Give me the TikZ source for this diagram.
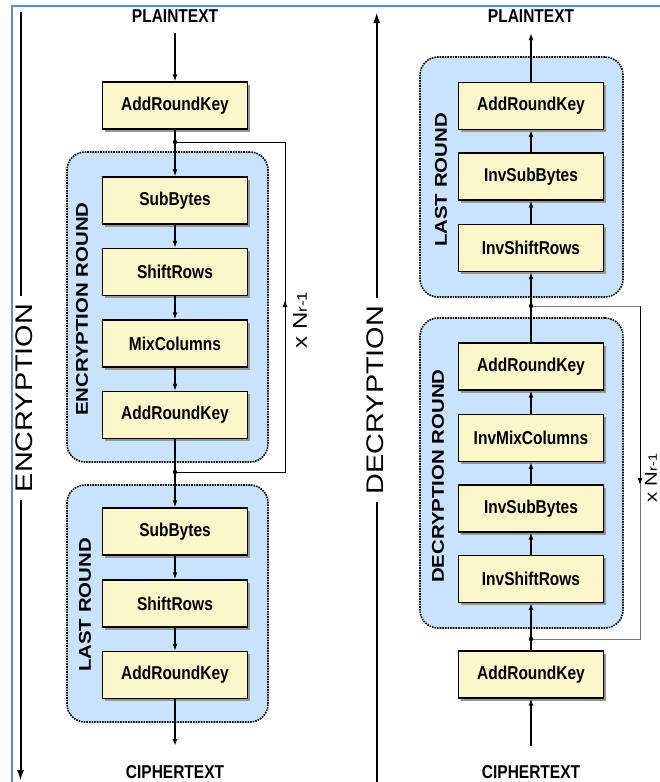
\documentclass[tikz,border=0pt]{standalone}
\usepackage{fontspec}
\setmainfont{Liberation Sans}
\usepackage{graphicx}
\usetikzlibrary{arrows.meta,shadows}
\definecolor{boxfill}{RGB}{252,246,203}
\definecolor{grpfill}{RGB}{200,227,251}
\definecolor{framecol}{RGB}{91,141,208}
\definecolor{shadowgray}{RGB}{150,150,150}
\definecolor{loopgray}{RGB}{120,120,120}
\newcommand{\vs}[1]{\scalebox{1}[1.2]{#1}}
\newcommand{\hs}[1]{\scalebox{1.2}[1]{#1}}
\begin{document}
\begin{tikzpicture}[x=1pt,y=-1pt,
  stage/.style={draw=black,line width=1.3pt,fill=boxfill,minimum width=145pt,minimum height=47pt,inner sep=0pt,
    font=\bfseries\fontsize{15.5}{16}\selectfont,
    drop shadow={shadow xshift=2.5pt,shadow yshift=-2.5pt,fill=shadowgray,opacity=1}},
  grp/.style={draw=black,fill=grpfill,line width=1.6pt,dash pattern=on 1.6pt off 1pt,rounded corners=18pt,inner sep=0pt},
  grplabel/.style={rotate=90,font=\bfseries\fontsize{17}{17}\selectfont,inner sep=0pt},
  iolabel/.style={font=\bfseries\fontsize{15.5}{16}\selectfont,inner sep=0pt},
  biglabel/.style={rotate=90,font=\fontsize{24}{24}\selectfont,inner xsep=8pt,inner ysep=0pt},
  replabel/.style={rotate=90,font=\fontsize{20}{20}\selectfont,inner sep=0pt},
  flow/.style={line width=1.4pt,-{Latex[length=7pt,width=5pt]}},
  loopline/.style={line width=1pt},
  looptip/.style={line width=1pt,-{Latex[length=7pt,width=5pt]}},
  bigline/.style={line width=2pt},
  bigarrow/.style={line width=2pt,-{Latex[length=11pt,width=7pt]}},
  frameline/.style={draw=framecol,line width=1.5pt}
]
\useasboundingbox (0,0) rectangle (660,782);
\fill[white] (0,0) rectangle (660,782);

% frame
\coordinate (fBL) at (12,790);
\coordinate (fTL) at (12,6);
\coordinate (fTR) at (670,6);
\draw[frameline] (fBL) -- (fTL) -- (fTR);

% ---------------- ENCRYPTION ----------------
\node[grp,minimum width=201pt,minimum height=310pt] (egR) at (167.5,307) {};
\node[grp,minimum width=201pt,minimum height=237pt] (egL) at (167.5,603.5) {};
\node[grplabel] (egRl) at (82,309) {\hs{ENCRYPTION ROUND}};
\node[grplabel] (egLl) at (85,605) {\hs{LAST ROUND}};

\node[iolabel] (ptE) at (175,16) {\vs{PLAINTEXT}};
\node[iolabel] (ctE) at (175,772.5) {\vs{CIPHERTEXT}};

\node[stage] (e0) at (175,105.5) {\vs{AddRoundKey}};
\node[stage] (e1) at (175,200.5) {\vs{SubBytes}};
\node[stage] (e2) at (175,272) {\vs{ShiftRows}};
\node[stage] (e3) at (175,343.5) {\vs{MixColumns}};
\node[stage] (e4) at (175,415) {\vs{AddRoundKey}};
\node[stage] (e5) at (175,531.5) {\vs{SubBytes}};
\node[stage] (e6) at (175,603.5) {\vs{ShiftRows}};
\node[stage] (e7) at (175,675) {\vs{AddRoundKey}};

\coordinate (eIn) at (175,33);
\coordinate (eOut) at (175,746);
\coordinate (eL1) at (175,142);
\coordinate (eR1) at (285,142);
\coordinate (eR2) at (285,472);
\coordinate (eL2) at (175,472);
\coordinate (eMid) at (285,300);

\draw[flow] (eIn) -- (e0.north);
\draw[flow] (e0.south) -- (e1.north);
\draw[flow] (e1.south) -- (e2.north);
\draw[flow] (e2.south) -- (e3.north);
\draw[flow] (e3.south) -- (e4.north);
\draw[flow] (e4.south) -- (e5.north);
\draw[flow] (e5.south) -- (e6.north);
\draw[flow] (e6.south) -- (e7.north);
\draw[flow] (e7.south) -- (eOut);

\draw[loopline] (eL1) -- (eR1) -- (eR2) -- (eL2);
\draw[looptip] (eR2) -- (eMid);
\fill (eL1) circle (2.2pt);
\fill (eL2) circle (2.2pt);
\node[replabel] (eRep) at (300,320) {\hs{x N{\fontsize{14}{14}\selectfont r-1}}};

% big left arrow
\coordinate (Ltop) at (20.5,12);
\coordinate (Lbot) at (20.5,781);
\node[biglabel] (encL) at (24,398) {\hs{ENCRYPTION}};
\draw[bigline] (Ltop) -- (Ltop |- encL.east);
\draw[bigarrow] (Lbot |- encL.west) -- (Lbot);

% ---------------- DECRYPTION ----------------
\node[grp,minimum width=203pt,minimum height=240pt] (dgL) at (521.5,177) {};
\node[grp,minimum width=203pt,minimum height=310pt] (dgR) at (521.5,473) {};
\node[grplabel] (dgLl) at (441,180) {\hs{LAST ROUND}};
\node[grplabel] (dgRl) at (438,476) {\hs{DECRYPTION ROUND}};

\node[iolabel] (ptD) at (531,16) {\vs{PLAINTEXT}};
\node[iolabel] (ctD) at (531,772) {\vs{CIPHERTEXT}};

\node[stage] (l1) at (531,106) {\vs{AddRoundKey}};
\node[stage] (l2) at (531,176.5) {\vs{InvSubBytes}};
\node[stage] (l3) at (531,248) {\vs{InvShiftRows}};
\node[stage] (r1) at (531,366.5) {\vs{AddRoundKey}};
\node[stage] (r2) at (531,438) {\vs{InvMixColumns}};
\node[stage] (r3) at (531,508.5) {\vs{InvSubBytes}};
\node[stage] (r4) at (531,579) {\vs{InvShiftRows}};
\node[stage] (d0) at (531,674.5) {\vs{AddRoundKey}};

\coordinate (dIn) at (531,746);
\coordinate (dOut) at (531,33);
\coordinate (dL1) at (531,639);
\coordinate (dR1) at (640,639);
\coordinate (dR2) at (640,306);
\coordinate (dL2) at (531,306);
\coordinate (dMid) at (640,485);

\draw[flow] (dIn) -- (d0.south);
\draw[flow] (d0.north) -- (r4.south);
\draw[flow] (r4.north) -- (r3.south);
\draw[flow] (r3.north) -- (r2.south);
\draw[flow] (r2.north) -- (r1.south);
\draw[flow] (r1.north) -- (l3.south);
\draw[flow] (l3.north) -- (l2.south);
\draw[flow] (l2.north) -- (l1.south);
\draw[flow] (l1.north) -- (dOut);

\draw[loopline,draw=loopgray] (dL1) -- (dR1) -- (dR2) -- (dL2);
\draw[looptip] (dR2) -- (dMid);
\fill (dL1) circle (2.2pt);
\fill (dL2) circle (2.2pt);
\node[replabel,font=\fontsize{17}{17}\selectfont] (dRep) at (651,478) {\hs{x N{\fontsize{12}{12}\selectfont r-1}}};

% big right arrow
\coordinate (Rtop) at (376.7,12);
\coordinate (Rbot) at (376.7,782);
\node[biglabel] (decL) at (375,400) {\hs{DECRYPTION}};
\draw[bigarrow] (Rtop |- decL.east) -- (Rtop);
\draw[bigline] (Rbot) -- (Rbot |- decL.west);
\end{tikzpicture}
\end{document}
